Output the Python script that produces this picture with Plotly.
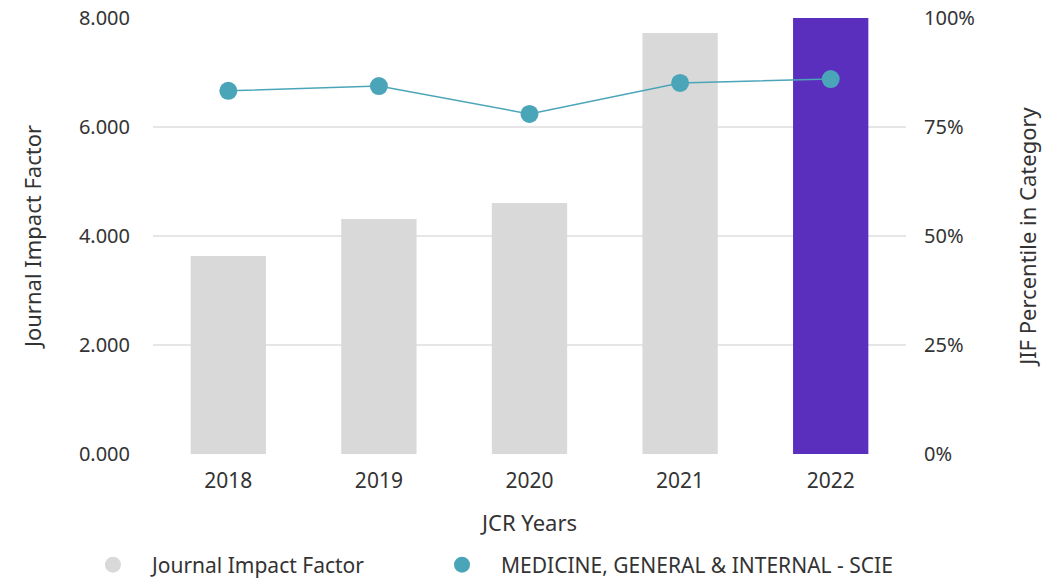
import plotly.graph_objects as go

years = ["2018", "2019", "2020", "2021", "2022"]
jif = [3.633, 4.312, 4.606, 7.725, 8.0]
percentile = [83.3, 84.4, 78.0, 85.1, 86.0]
bar_colors = ["#d9d9d9", "#d9d9d9", "#d9d9d9", "#d9d9d9", "#5b2fbd"]
left_ticks = [0, 2, 4, 6, 8]
left_labels = ["0.000", "2.000", "4.000", "6.000", "8.000"]
right_ticks = [0, 25, 50, 75, 100]
right_labels = ["0%", "25%", "50%", "75%", "100%"]

teal = "#4ba5b9"
font = "Noto Sans"

fig = go.Figure()
fig.add_trace(go.Bar(x=years, y=jif, marker=dict(color=bar_colors, line=dict(width=0)),
                     width=0.5, showlegend=False, yaxis="y"))
fig.add_trace(go.Scatter(x=years, y=percentile, mode="lines+markers", yaxis="y2",
                         line=dict(color=teal, width=1.5),
                         marker=dict(color=teal, size=18), showlegend=False))
# legend entries
fig.add_trace(go.Scatter(x=[None], y=[None], mode="markers", name="Journal Impact Factor",
                         marker=dict(color="#d9d9d9", size=20), legend="legend"))
fig.add_trace(go.Scatter(x=[None], y=[None], mode="markers", yaxis="y2",
                         name="MEDICINE, GENERAL & INTERNAL - SCIE",
                         marker=dict(color=teal, size=20), legend="legend2"))

fig.update_layout(
    width=1052, height=579,
    margin=dict(l=145, r=154, t=10, b=133),
    paper_bgcolor="white", plot_bgcolor="white",
    font=dict(family=font, size=21, color="#333333"),
    xaxis=dict(type="category", range=[-0.5, 4.5], showgrid=False, zeroline=False,
               showline=False, ticks="", tickfont=dict(size=21), automargin=False,
               ticklabelstandoff=12,
               title=dict(text="JCR Years", font=dict(size=22), standoff=22)),
    yaxis=dict(range=[0, 8], tickvals=left_ticks, ticktext=left_labels,
               showgrid=True, gridcolor="#e6e6e6", gridwidth=1.5, zeroline=False,
               showline=False, ticklabelstandoff=22, tickfont=dict(size=20), automargin=False,
               ticklabeloverflow="allow",
               title=dict(text="Journal Impact Factor", font=dict(size=22), standoff=31)),
    yaxis2=dict(range=[0, 100], tickvals=right_ticks, ticktext=right_labels,
                overlaying="y", side="right", showgrid=False, zeroline=False,
                showline=False, ticklabelstandoff=17, tickfont=dict(size=20), automargin=False,
                ticklabeloverflow="allow",
                title=dict(text="JIF Percentile in Category", font=dict(size=22), standoff=46)),
    legend=dict(orientation="h", x=0.0627, xanchor="left", xref="container",
                y=0.038, yanchor="middle", yref="container", font=dict(size=21),
                itemwidth=68),
    legend2=dict(orientation="h", x=0.3945, xanchor="left", xref="container",
                 y=0.038, yanchor="middle", yref="container", font=dict(size=21),
                 itemwidth=68),
    bargap=0.5,
)

fig.write_html("out.html")
